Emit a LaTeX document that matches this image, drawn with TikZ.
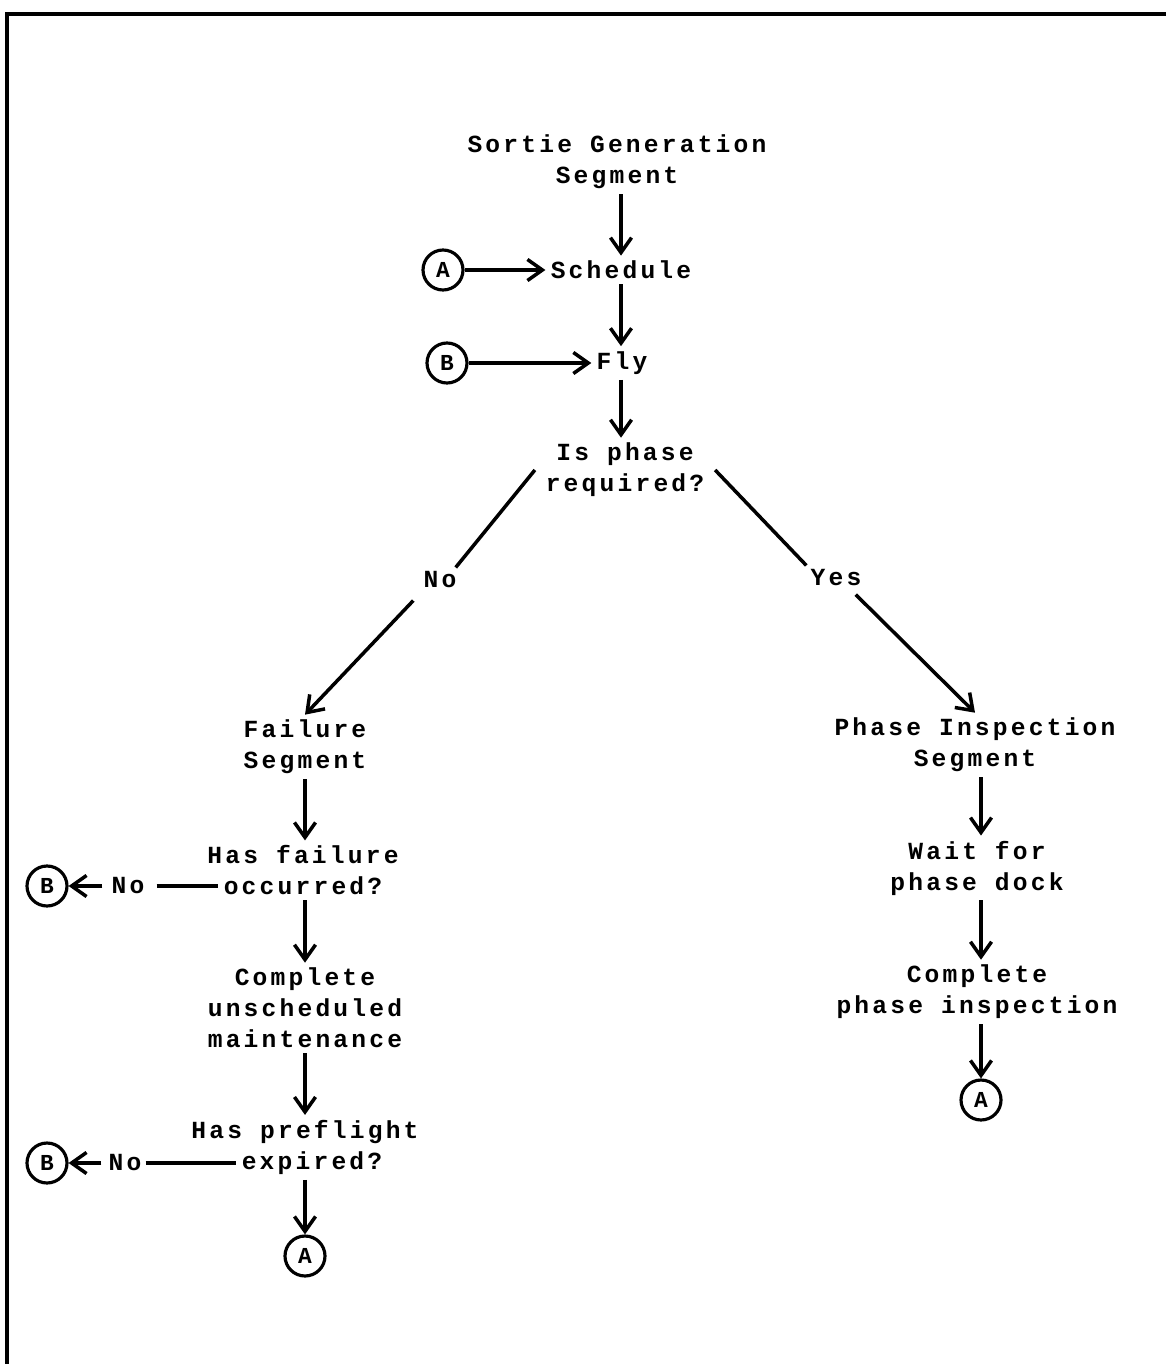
\documentclass[tikz,border=0pt]{standalone}
\usepackage{fontspec}
\setmainfont{Liberation Mono}[LetterSpace=13]
\usetikzlibrary{arrows.meta}
\begin{document}
\begin{tikzpicture}[x=0.02cm,y=-0.02cm,
  txt/.style={font=\bfseries\fontsize{14}{17.6}\selectfont, align=center, inner sep=0.1cm},
  lbl/.style={font=\bfseries\fontsize{14}{17.6}\selectfont, inner sep=0.08cm},
  conn/.style={circle, draw, line width=1.8pt, minimum size=0.8cm, inner sep=0pt,
    font=\bfseries\fontsize{13}{14}\selectfont},
  link/.style={line width=2pt},
  arr/.style={link, -{Straight Barb[length=8.5pt,width=12pt,line width=2pt]}}]
\useasboundingbox (0,0) rectangle (1166,1364);
% frame
\draw[line width=2.4pt] (1166,14) -- (7,14) -- (7,1364);

% main trunk
\node[txt] (sortie) at (617,162) {Sortie Generation\\Segment};
\node[txt] (sched) at (621,270) {Schedule};
\node[txt] (fly) at (622,363) {Fly};
\node[txt, inner xsep=15\pgflinewidth] (isphase) at (625,470) {Is phase\\required?};
\node[conn] (a1) at (443,270) {A};
\node[conn] (b1) at (447,363) {B};

\draw[arr] (sortie.south -| sched.north) -- (sched.north);
\draw[arr] (sched.south) -- (fly.north -| sched.south);
\draw[arr] (fly.south -| sched.south) -- (isphase.north -| sched.south);
\draw[arr] (a1) -- (sched.west);
\draw[arr] (b1) -- (fly.west);

% branch labels
\node[lbl] (no1) at (440,580) {No};
\node[lbl] (yes) at (836,578) {Yes};

% failure branch
\node[txt] (failure) at (305,747) {Failure\\Segment};
\node[txt] (hasfailA) at (303,855) {Has failure};
\node[txt] (hasfailB) at (303,886) {occurred?};
\node[txt] (unsched) at (305,1008) {Complete\\unscheduled\\maintenance};
\node[txt] (hasprefA) at (305,1132) {Has preflight};
\node[txt] (hasprefB) at (312,1163) {expired?};
\node[conn] (a2) at (305,1256) {A};
\node[lbl] (no2) at (128,886) {No};
\node[lbl] (no3) at (125,1163) {No};
\node[conn] (b2) at (47,886) {B};
\node[conn] (b3) at (47,1163) {B};

\draw[link] (isphase.west) -- ([shift={(-5,0)}]no1.north east);
\draw[arr] ([shift={(-6,8)}]no1.south west) -- (failure.north);
\draw[arr] (failure.south) -- (hasfailA.north -| failure.south);
\draw[arr] (hasfailB.south -| failure.south) -- (unsched.north);
\draw[arr] (unsched.south) -- (hasprefA.north -| unsched.south);
\draw[arr] (hasprefB.south -| unsched.south) -- (a2.north);
\draw[link] (no2.east) ++(8,0) -- (hasfailB.west);
\draw[arr] ([shift={(-5,0)}]no2.west) -- (b2.east);
\draw[link] (no3.east) -- (hasprefB.west);
\draw[arr] ([shift={(-3,0)}]no3.west) -- (b3.east);

% phase inspection branch
\node[txt] (phinsp) at (975,745) {Phase Inspection\\Segment};
\node[txt] (waitdock) at (977,868) {Wait for\\phase dock};
\node[txt] (phcomp) at (977,992) {Complete\\phase inspection};
\node[conn] (a3) at (981,1100) {A};

\draw[link] (isphase.east) -- (yes.north west);
\draw[arr] ([shift={(-10,4)}]yes.south east) -- (phinsp.north);
\draw[arr] (phinsp.south -| a3) -- (waitdock.north -| a3);
\draw[arr] (waitdock.south -| a3) -- (phcomp.north -| a3);
\draw[arr] (phcomp.south -| a3) -- (a3.north);
\end{tikzpicture}
\end{document}
